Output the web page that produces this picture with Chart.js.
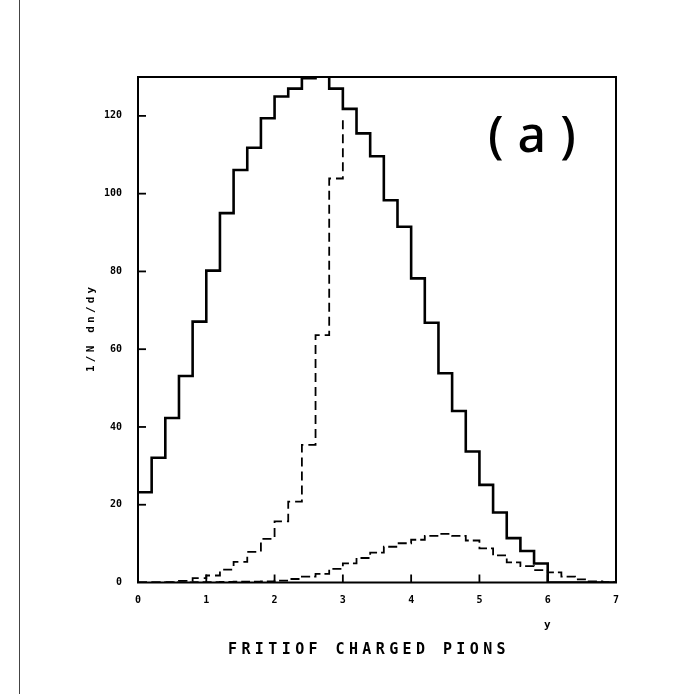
<!DOCTYPE html>
<html>
<head>
<meta charset="utf-8">
<script src="https://cdn.jsdelivr.net/npm/chart.js@4/dist/chart.umd.min.js"></script>
<style>
  html, body { margin: 0; padding: 0; background: #fff; }
  #wrap { width: 681px; height: 694px; position: relative; }
</style>
</head>
<body>
<div id="wrap"><canvas id="c" width="681" height="694"></canvas></div>
<script>
// Rapidity bin edges (width 0.2)
const binEdges = [0.0, 0.2, 0.4, 0.6, 0.8, 1.0, 1.2, 1.4, 1.6, 1.8, 2.0, 2.2, 2.4, 2.6, 2.8,
                  3.0, 3.2, 3.4, 3.6, 3.8, 4.0, 4.2, 4.4, 4.6, 4.8, 5.0, 5.2, 5.4, 5.6, 5.8,
                  6.0, 6.2, 6.4, 6.6, 6.8, 7.0];

// All charged pions, 1/N dn/dy per bin
const totalPions = [23.2, 32.1, 42.3, 53.1, 67.1, 80.2, 95.0, 106.1, 111.8, 119.4,
                    125.0, 127.0, 129.7, 131.0, 127.0, 121.8, 115.5, 109.6, 98.3, 91.5,
                    78.2, 66.8, 53.8, 44.1, 33.7, 25.1, 18.0, 11.4, 8.1, 4.9,
                    0, 0, 0, 0, 0];

// Central component (bins 0.0 .. 3.0), closing edge rises to centralEdgeTop
const centralPions = [0.0, 0.0, 0.1, 0.4, 1.1, 1.8, 3.3, 5.3, 7.9, 11.2,
                      15.7, 20.8, 35.4, 63.6, 103.9];
const centralEdgeTop = 120;

// Forward component
const forwardPions = [0.0, 0.0, 0.0, 0.05, 0.1, 0.1, 0.15, 0.2, 0.25, 0.3,
                      0.5, 0.9, 1.5, 2.2, 3.5, 4.9, 6.3, 7.7, 9.2, 10.1,
                      11.0, 12.0, 12.5, 12.0, 10.8, 8.8, 7.0, 5.2, 4.2, 3.2,
                      2.6, 1.5, 0.8, 0.3, 0.1];

const yTicks = [0, 20, 40, 60, 80, 100, 120];
const xTicks = [0, 1, 2, 3, 4, 5, 6, 7];

// Histogram outline: one point per left edge, plus the closing right edge
function histPoints(values, closeTop) {
  const pts = values.map((v, i) => ({ x: binEdges[i], y: v }));
  pts.push({ x: binEdges[values.length], y: closeTop === undefined ? values[values.length - 1] : closeTop });
  return pts;
}

const MONO = "'DejaVu Sans Mono', 'Liberation Mono', monospace";

// Frame, inward tick marks and free text
const decorations = {
  id: 'decorations',
  afterDatasetsDraw(chart) {
    const { ctx, chartArea: a, scales } = chart;
    ctx.save();
    ctx.strokeStyle = '#000';
    ctx.lineWidth = 2;
    ctx.strokeRect(a.left, a.top, a.right - a.left, a.bottom - a.top);

    ctx.lineWidth = 1.8;
    yTicks.forEach(v => {
      if (v === 0) return;
      const y = scales.y.getPixelForValue(v);
      ctx.beginPath(); ctx.moveTo(a.left, y); ctx.lineTo(a.left + 8, y); ctx.stroke();
    });
    xTicks.forEach(v => {
      if (v === 0 || v === 7) return;
      const x = scales.x.getPixelForValue(v);
      ctx.beginPath(); ctx.moveTo(x, a.bottom); ctx.lineTo(x, a.bottom - 8); ctx.stroke();
    });

    // outer left rule of the figure
    ctx.lineWidth = 1;
    ctx.strokeStyle = '#444';
    ctx.beginPath(); ctx.moveTo(19.5, 0); ctx.lineTo(19.5, 694); ctx.stroke();

    ctx.fillStyle = '#000';
    // panel label
    ctx.font = "500 50px 'Noto Sans', sans-serif";
    ctx.letterSpacing = '14px';
    ctx.textBaseline = 'alphabetic';
    ctx.textAlign = 'left';
    ctx.fillText('(a)', 488, 152);

    // axis titles
    ctx.font = "bold 15px " + MONO;
    ctx.letterSpacing = '4.4px';
    ctx.textBaseline = 'middle';
    ctx.fillText('FRITIOF CHARGED PIONS', 228, 650);

    ctx.font = "bold 11px " + MONO;
    ctx.letterSpacing = '0px';
    ctx.fillText('y', 544, 625);

    ctx.translate(91, 372);
    ctx.rotate(-Math.PI / 2);
    ctx.letterSpacing = '3.2px';
    ctx.fillText('1/N dn/dy', 0, 0);
    ctx.restore();
  }
};

new Chart(document.getElementById('c'), {
  type: 'line',
  data: {
    datasets: [
      {
        data: histPoints(totalPions),
        borderColor: '#000', borderWidth: 2.6, stepped: 'before',
        pointRadius: 0, fill: false
      },
      {
        data: histPoints(centralPions, centralEdgeTop),
        borderColor: '#000', borderWidth: 1.8, borderDash: [9, 5], stepped: 'before',
        pointRadius: 0, fill: false
      },
      {
        data: histPoints(forwardPions),
        borderColor: '#000', borderWidth: 1.8, borderDash: [9, 4], stepped: 'before',
        pointRadius: 0, fill: false
      }
    ]
  },
  options: {
    responsive: false,
    animation: false,
    events: [],
    layout: { padding: { left: 0, right: 65, top: 77, bottom: 0 } },
    plugins: { legend: { display: false }, tooltip: { enabled: false } },
    scales: {
      x: {
        type: 'linear', min: 0, max: 7,
        grid: { display: false }, border: { display: false },
        afterBuildTicks(s) { s.ticks = xTicks.map(v => ({ value: v })); },
        afterFit(s) { s.height = 111.5; },
        ticks: { color: '#000', padding: 4, maxRotation: 0, autoSkip: false,
                 font: { family: MONO, size: 10, weight: 'bold' } }
      },
      y: {
        type: 'linear', min: 0, max: 130,
        grid: { display: false }, border: { display: false },
        afterBuildTicks(s) { s.ticks = yTicks.map(v => ({ value: v })); },
        afterFit(s) { s.width = 138; },
        ticks: { color: '#000', padding: 8, autoSkip: false,
                 font: { family: MONO, size: 10, weight: 'bold' } }
      }
    }
  },
  plugins: [decorations]
});
</script>
</body>
</html>
